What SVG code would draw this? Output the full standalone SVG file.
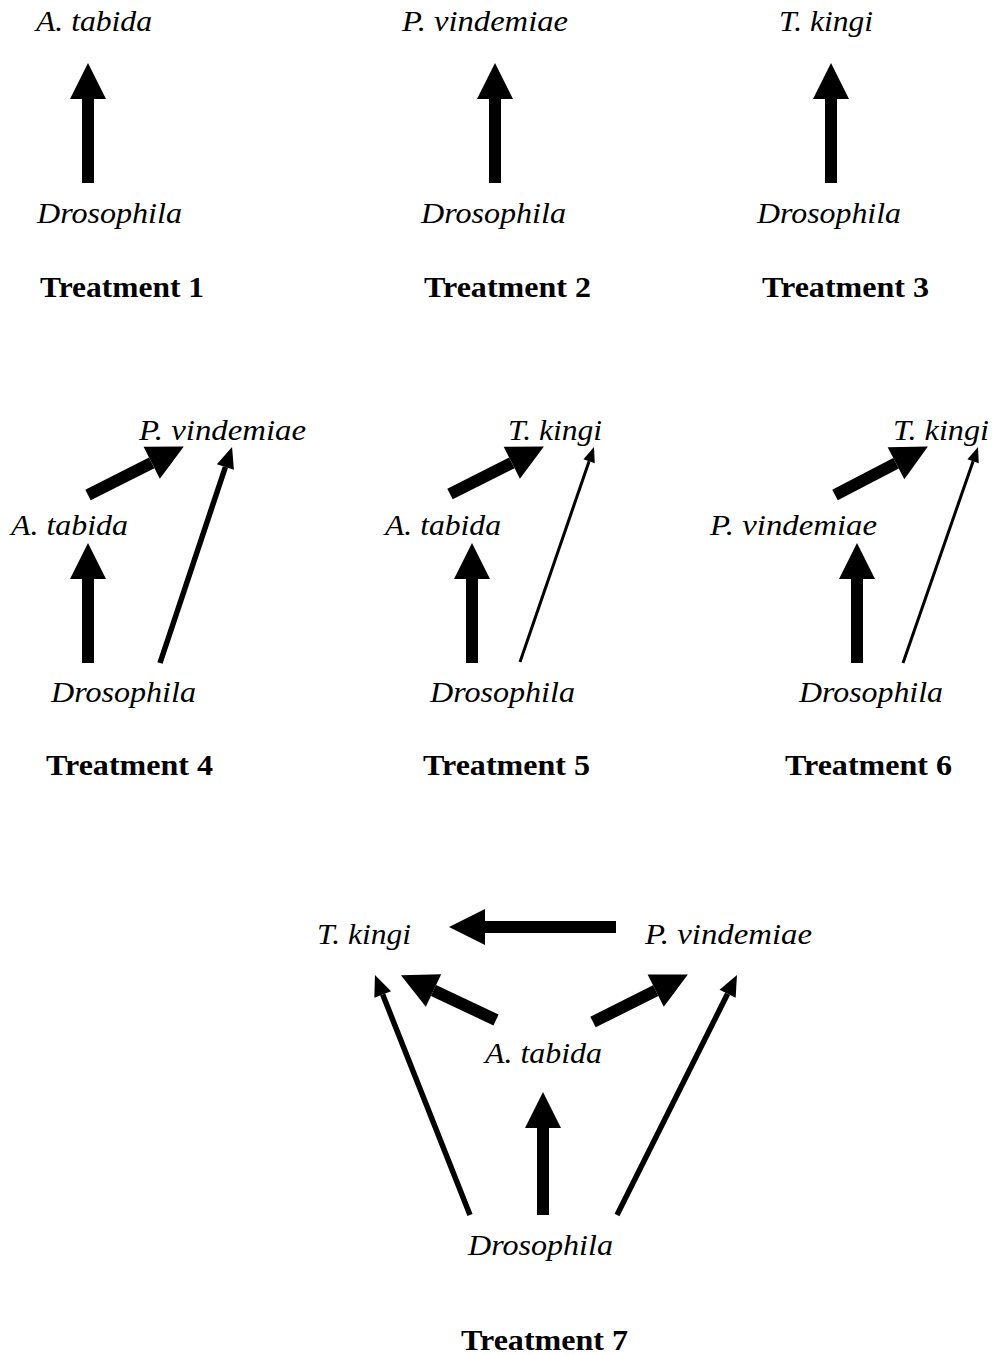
<svg xmlns="http://www.w3.org/2000/svg" width="993" height="1355" viewBox="0 0 993 1355" font-family="Liberation Serif, Times New Roman, Times, serif">
<style>
text{font-family:'Liberation Serif','Times New Roman',Times,serif;fill:#000}
.sp{font-style:italic;font-size:29px}
.tr{font-weight:bold;font-size:29px}
.thick{stroke:#000;stroke-width:12;fill:none;marker-end:url(#hBig)}
.mid{stroke:#000;stroke-width:5.5;fill:none;marker-end:url(#hMid)}
.thin{stroke:#000;stroke-width:3;fill:none;marker-end:url(#hSmall)}
</style>
<defs>
<marker id="hBig" markerUnits="userSpaceOnUse" viewBox="0 0 36 36" markerWidth="36" markerHeight="36" refX="0" refY="18" orient="auto" overflow="visible"><path d="M0,0 L36,18 L0,36 Z" fill="#000"/></marker>
<marker id="hMid" markerUnits="userSpaceOnUse" viewBox="0 0 21 18" markerWidth="21" markerHeight="18" refX="0" refY="9" orient="auto" overflow="visible"><path d="M0,0 L21,9 L0,18 Z" fill="#000"/></marker>
<marker id="hSmall" markerUnits="userSpaceOnUse" viewBox="0 0 15 12" markerWidth="15" markerHeight="12" refX="0" refY="6" orient="auto" overflow="visible"><path d="M0,0 L15,6 L0,12 Z" fill="#000"/></marker>
</defs>
<rect width="993" height="1355" fill="#fff"/>

<g id="connectors">
<line class="thick" x1="88" y1="183" x2="88" y2="99"/>
<line class="thick" x1="495" y1="183" x2="495" y2="99"/>
<line class="thick" x1="831" y1="183" x2="831" y2="99"/>
<line class="thick" x1="88" y1="663" x2="88" y2="579"/>
<line class="thick" x1="88" y1="495" x2="151.7" y2="462.8"/>
<line class="mid" x1="160" y1="663" x2="225.4" y2="467"/>
<line class="thick" x1="472" y1="663" x2="472" y2="579"/>
<line class="thick" x1="450" y1="494" x2="511.8" y2="462.8"/>
<line class="thin" x1="520" y1="662" x2="589.1" y2="461.2"/>
<line class="thick" x1="857" y1="663" x2="857" y2="579"/>
<line class="thick" x1="835" y1="495" x2="896" y2="463.2"/>
<line class="thin" x1="903" y1="663" x2="973.1" y2="461.2"/>
<line class="thick" x1="616" y1="927" x2="485" y2="927"/>
<line class="thick" x1="496" y1="1020" x2="433.5" y2="990.5"/>
<line class="thick" x1="593" y1="1022" x2="655.7" y2="990.6"/>
<line class="thick" x1="543" y1="1215" x2="543" y2="1128"/>
<line class="mid" x1="470" y1="1215" x2="382.7" y2="994.5"/>
<line class="mid" x1="617" y1="1215" x2="727.6" y2="993.8"/>
</g>

<g id="t1-atabida"><text class="sp" x="36" y="31" textLength="116" lengthAdjust="spacingAndGlyphs">A. tabida</text></g>
<g id="t1-drosophila"><text class="sp" x="37" y="223" textLength="145" lengthAdjust="spacingAndGlyphs">Drosophila</text></g>
<g id="t1-label"><text class="tr" x="40" y="297" textLength="164" lengthAdjust="spacingAndGlyphs">Treatment 1</text></g>

<g id="t2-pvindemiae"><text class="sp" x="402" y="31" textLength="166" lengthAdjust="spacingAndGlyphs">P. vindemiae</text></g>
<g id="t2-drosophila"><text class="sp" x="421" y="223" textLength="145" lengthAdjust="spacingAndGlyphs">Drosophila</text></g>
<g id="t2-label"><text class="tr" x="424" y="297" textLength="167" lengthAdjust="spacingAndGlyphs">Treatment 2</text></g>

<g id="t3-tkingi"><text class="sp" x="779" y="31" textLength="94" lengthAdjust="spacingAndGlyphs">T. kingi</text></g>
<g id="t3-drosophila"><text class="sp" x="757" y="223" textLength="144" lengthAdjust="spacingAndGlyphs">Drosophila</text></g>
<g id="t3-label"><text class="tr" x="762" y="297" textLength="167" lengthAdjust="spacingAndGlyphs">Treatment 3</text></g>

<g id="t4-pvindemiae"><text class="sp" x="139" y="440" textLength="167" lengthAdjust="spacingAndGlyphs">P. vindemiae</text></g>
<g id="t4-atabida"><text class="sp" x="11" y="535" textLength="117" lengthAdjust="spacingAndGlyphs">A. tabida</text></g>
<g id="t4-drosophila"><text class="sp" x="51" y="702" textLength="145" lengthAdjust="spacingAndGlyphs">Drosophila</text></g>
<g id="t4-label"><text class="tr" x="46" y="775" textLength="167" lengthAdjust="spacingAndGlyphs">Treatment 4</text></g>

<g id="t5-tkingi"><text class="sp" x="508" y="440" textLength="94" lengthAdjust="spacingAndGlyphs">T. kingi</text></g>
<g id="t5-atabida"><text class="sp" x="385" y="535" textLength="116" lengthAdjust="spacingAndGlyphs">A. tabida</text></g>
<g id="t5-drosophila"><text class="sp" x="430" y="702" textLength="145" lengthAdjust="spacingAndGlyphs">Drosophila</text></g>
<g id="t5-label"><text class="tr" x="423" y="775" textLength="167" lengthAdjust="spacingAndGlyphs">Treatment 5</text></g>

<g id="t6-tkingi"><text class="sp" x="893" y="440" textLength="96" lengthAdjust="spacingAndGlyphs">T. kingi</text></g>
<g id="t6-pvindemiae"><text class="sp" x="710" y="535" textLength="167" lengthAdjust="spacingAndGlyphs">P. vindemiae</text></g>
<g id="t6-drosophila"><text class="sp" x="799" y="702" textLength="144" lengthAdjust="spacingAndGlyphs">Drosophila</text></g>
<g id="t6-label"><text class="tr" x="785" y="775" textLength="167" lengthAdjust="spacingAndGlyphs">Treatment 6</text></g>

<g id="t7-tkingi"><text class="sp" x="317" y="944" textLength="94" lengthAdjust="spacingAndGlyphs">T. kingi</text></g>
<g id="t7-pvindemiae"><text class="sp" x="645" y="944" textLength="167" lengthAdjust="spacingAndGlyphs">P. vindemiae</text></g>
<g id="t7-atabida"><text class="sp" x="485" y="1063" textLength="117" lengthAdjust="spacingAndGlyphs">A. tabida</text></g>
<g id="t7-drosophila"><text class="sp" x="468" y="1255" textLength="145" lengthAdjust="spacingAndGlyphs">Drosophila</text></g>
<g id="t7-label"><text class="tr" x="461" y="1350" textLength="167" lengthAdjust="spacingAndGlyphs">Treatment 7</text></g>
</svg>
